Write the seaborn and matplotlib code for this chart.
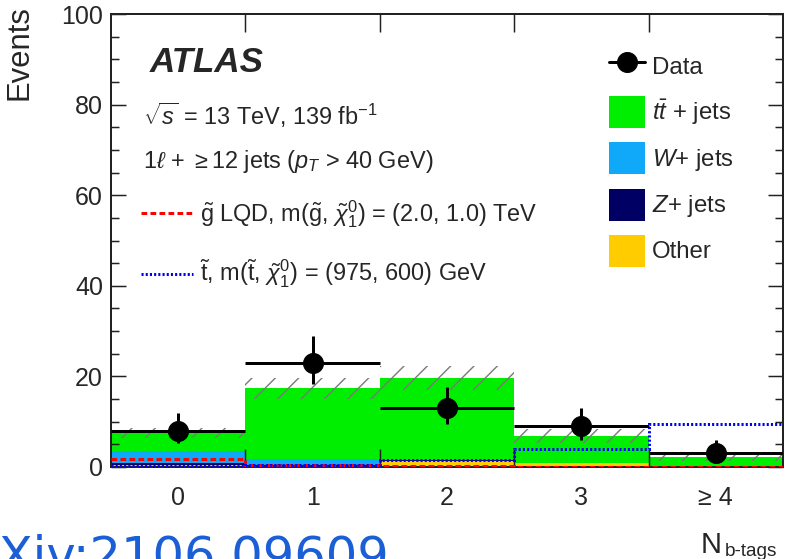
import numpy as np
import pandas as pd
import matplotlib
matplotlib.use("Agg")
import matplotlib.pyplot as plt
from matplotlib.lines import Line2D
from matplotlib.patches import Patch
from matplotlib.ticker import MultipleLocator, FixedLocator
import seaborn as sns

# ---- data -------------------------------------------------------------
bins = [0, 1, 2, 3, 4]
bin_labels = ["0", "1", "2", "3", "≥ 4"]

ttbar = [3.8, 15.7, 18.05, 5.83, 1.85]
wjets = [2.65, 1.2, 0.1, 0.05, 0.0]
zjets = [0.5, 0.3, 0.05, 0.02, 0.0]
other = [0.45, 0.2, 1.4, 0.9, 0.25]
bkg_unc = [1.1, 2.3, 2.7, 1.6, 0.8]

data = [8, 23, 13, 9, 3]
data_err_lo = [2.76, 4.77, 3.57, 2.94, 1.63]
data_err_hi = [3.99, 5.86, 4.71, 4.11, 2.92]

sig_gluino = [1.8, 0.55, 0.15, 0.1, 0.1]
sig_stop = [0.3, 0.4, 1.5, 4.0, 9.5]

processes = ["ttbar", "W", "Z", "Other"]
colors = {"ttbar": "#00ee00", "W": "#10a8f8", "Z": "#000064", "Other": "#ffcc00"}

# ---- style ------------------------------------------------------------
DPI = 70
PT = 72 / DPI


def px(v):
    """pixels -> points at the output resolution"""
    return v * PT


sns.set_style("ticks")
plt.rcParams["font.family"] = ["Liberation Sans", "DejaVu Sans"]
plt.rcParams.update({
    "mathtext.fontset": "custom",
    "mathtext.rm": "Liberation Sans",
    "mathtext.it": "Liberation Sans:italic",
    "mathtext.bf": "Liberation Sans:bold",
    "mathtext.sf": "Liberation Sans",
    "hatch.linewidth": px(1.4),
    "hatch.color": "#7a7a7a",
})

fig = plt.figure(figsize=(785 / DPI, 559 / DPI), dpi=DPI)
ax = fig.add_axes([111 / 785, 92 / 559, 672 / 785, 453 / 559])

# ---- stacked backgrounds ---------------------------------------------
df = pd.DataFrame({
    "bin": np.tile(bins, len(processes)),
    "process": np.repeat(processes, len(bins)),
    "events": np.concatenate([ttbar, wjets, zjets, other]),
})
sns.histplot(data=df, x="bin", weights="events", hue="process",
             hue_order=processes, multiple="stack", discrete=True, shrink=1,
             palette=colors, alpha=1, linewidth=0, edgecolor="none",
             legend=False, ax=ax)

total = np.sum([ttbar, wjets, zjets, other], axis=0)
unc = np.array(bkg_unc)
ax.bar(bins, 2 * unc, bottom=total - unc, width=1, fill=False, hatch="/",
       edgecolor="#7a7a7a", linewidth=0, zorder=3)

# ---- signals ----------------------------------------------------------
edges = np.arange(-0.5, 5.0, 1.0)
ax.stairs(sig_gluino, edges, baseline=None, color="#ff0000", lw=px(3),
          linestyle=(0, (1.9, 1.1)), zorder=4)
ax.stairs(sig_stop, edges, baseline=None, color="#0000ff", lw=px(3),
          linestyle=(0, (0.7, 0.7)), zorder=4)

# ---- data -------------------------------------------------------------
ax.errorbar(bins, data, xerr=0.5, yerr=[data_err_lo, data_err_hi], fmt="o",
            color="black", ms=px(20), elinewidth=px(3), capsize=0, zorder=6)

# ---- axes -------------------------------------------------------------
ax.set_xlim(-0.5, 4.5)
ax.set_ylim(0, 100)
ax.set_xlabel("")
ax.set_ylabel("")
ax.set_axisbelow(False)
ax.set_xticks(bins)
ax.set_xticklabels(bin_labels)
ax.xaxis.set_minor_locator(FixedLocator(edges[1:-1]))
ax.yaxis.set_major_locator(MultipleLocator(20))
ax.yaxis.set_minor_locator(MultipleLocator(5))
ax.tick_params(axis="x", which="major", length=0, pad=px(19),
               labelsize=px(25), bottom=True, top=False)
ax.tick_params(axis="x", which="minor", direction="in", length=px(18),
               width=px(1.5), bottom=True, top=True, color="#222222")
ax.tick_params(axis="y", which="major", direction="in", length=px(15),
               width=px(1.5), left=True, right=True, labelsize=px(25),
               pad=px(8), color="#222222")
ax.tick_params(axis="y", which="minor", direction="in", length=px(8),
               width=px(1.5), left=True, right=True, color="#222222")
for s in ax.spines.values():
    s.set_visible(True)
    s.set_linewidth(px(2))
    s.set_color("#222222")

# ---- labels -----------------------------------------------------------
fig.text(4 / 785, 1 - 5 / 559, "Events", rotation=90, ha="left", va="top",
         fontsize=px(31))
fig.text(722 / 785, 6 / 559, "N", ha="right", va="baseline", fontsize=px(29))
fig.text(725 / 785, 3 / 559, "b-tags", ha="left", va="baseline",
         fontsize=px(19))
fig.text(-52 / 785, -12 / 559, "arXiv:2106.09609", color="#1a5fd6",
         fontsize=px(49.5), family="DejaVu Sans", ha="left", va="baseline")

ax.text(0.058, 0.872, "ATLAS", transform=ax.transAxes, fontsize=px(35),
        fontweight="bold", fontstyle="italic", va="baseline")
ax.text(0.0476, 0.755, r"$\sqrt{s}$ = 13 TeV, 139 fb$^{-1}$",
        transform=ax.transAxes, fontsize=px(23.5), va="baseline")
ax.text(0.0476, 0.660, r"1$\ell$ + $\geq$12 jets ($p_{T}$ > 40 GeV)",
        transform=ax.transAxes, fontsize=px(23.5), va="baseline")

# ---- legends ----------------------------------------------------------
sig_handles = [
    Line2D([], [], color="#ff0000", lw=px(3), ls=(0, (1.9, 1.1))),
    Line2D([], [], color="#0000ff", lw=px(3), ls=(0, (0.7, 0.7))),
]
sig_labels = [
    r"$\tilde{\rm g}$ LQD, m($\tilde{\rm g}$, $\tilde{\chi}_1^0$) = (2.0, 1.0) TeV",
    r"$\tilde{\rm t}$, m($\tilde{\rm t}$, $\tilde{\chi}_1^0$) = (975, 600) GeV",
]
leg_sig = ax.legend(sig_handles, sig_labels, loc="upper left",
                    bbox_to_anchor=((141 - 111) / 672, (467 - 198) / 453),
                    frameon=False, fontsize=px(23.5), handlelength=52 / 23.5,
                    handletextpad=0.3, labelspacing=1.2, borderpad=0,
                    borderaxespad=0)

bkg_handles = [
    Line2D([], [], color="black", marker="o", ms=px(20), lw=px(3)),
    Patch(facecolor=colors["ttbar"], edgecolor="none"),
    Patch(facecolor=colors["W"], edgecolor="none"),
    Patch(facecolor=colors["Z"], edgecolor="none"),
    Patch(facecolor=colors["Other"], edgecolor="none"),
]
bkg_labels = ["Data", r"$t\bar{t}$ + jets", r"$W$+ jets", r"$Z$+ jets", "Other"]
leg_bkg = ax.legend(bkg_handles, bkg_labels, loc="upper left",
                    bbox_to_anchor=((609 - 111) / 672, (467 - 50) / 453),
                    frameon=False, fontsize=px(24), handlelength=36 / 24,
                    handleheight=1.675, handletextpad=0.3, labelspacing=0.59,
                    borderpad=0, borderaxespad=0)
ax.add_artist(leg_sig)

fig.savefig("out.png", dpi=DPI)
